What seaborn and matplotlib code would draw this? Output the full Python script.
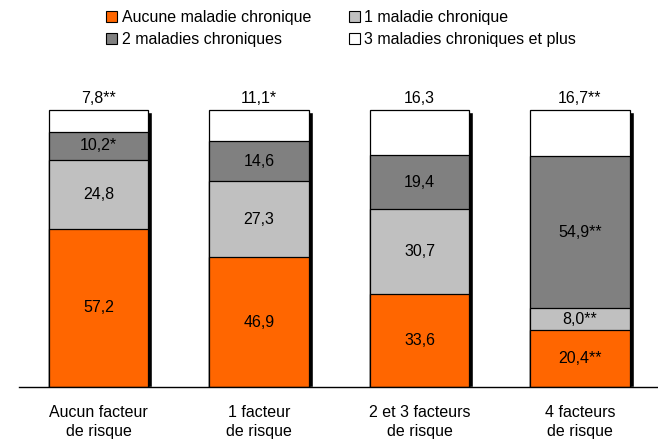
import numpy as np
import pandas as pd
import matplotlib
matplotlib.use("Agg")
import matplotlib.pyplot as plt
import seaborn as sns
from matplotlib.patches import Patch

categories = ["Aucun facteur\nde risque", "1 facteur\nde risque",
              "2 et 3 facteurs\nde risque", "4 facteurs\nde risque"]
series = ["Aucune maladie chronique", "1 maladie chronique",
          "2 maladies chroniques", "3 maladies chroniques et plus"]
aucune = [57.2, 46.9, 33.6, 20.4]
une = [24.8, 27.3, 30.7, 8.0]
deux = [10.2, 14.6, 19.4, 54.9]
trois = [7.8, 11.1, 16.3, 16.7]
labels_aucune = ["57,2", "46,9", "33,6", "20,4**"]
labels_une = ["24,8", "27,3", "30,7", "8,0**"]
labels_deux = ["10,2*", "14,6", "19,4", "54,9**"]
labels_trois = ["7,8**", "11,1*", "16,3", "16,7**"]
colors = ["#FF6600", "#C0C0C0", "#808080", "#FFFFFF"]

sns.set_theme(style="white")
plt.rcParams["font.family"] = ["Liberation Sans", "DejaVu Sans"]
plt.rcParams["text.color"] = "black"
plt.rcParams["xtick.color"] = "black"

fs = 11.5
values = np.array([aucune, une, deux, trois])
cum = np.cumsum(values, axis=0)

fig = plt.figure(figsize=(6.58, 4.41), dpi=100)
ax = fig.add_axes([19 / 658, 54 / 441, 639 / 658, 307 / 441])

width = 0.62
x = np.arange(len(categories))
# shadow on the right of each bar
ax.bar(x + 0.024, cum[-1] - 0.7, width=width, color="black", zorder=0)

# stacked bars drawn as cumulative totals, tallest first
for i in range(len(series) - 1, -1, -1):
    df = pd.DataFrame({"cat": categories, "val": cum[i]})
    sns.barplot(data=df, x="cat", y="val", color=colors[i], width=width,
                edgecolor="black", linewidth=0.9, saturation=1, ax=ax, zorder=1)

inner = [labels_aucune, labels_une, labels_deux]
for j in range(len(categories)):
    for i in range(3):
        mid = cum[i][j] - values[i][j] / 2
        ax.text(x[j], mid, inner[i][j], ha="center", va="center", fontsize=fs,
                color="black", zorder=3)
    ax.text(x[j], cum[-1][j] + 4.3, labels_trois[j], ha="center", va="center",
            fontsize=fs, color="black", zorder=3)

ax.set_xlim(-0.495, 3.486)
ax.set_ylim(0, 110.83)
ax.set_xlabel("")
ax.set_ylabel("")
ax.set_yticks([])
ax.tick_params(axis="x", length=0, labelsize=fs, pad=13, labelcolor="black")
for lab in ax.get_xticklabels():
    lab.set_linespacing(1.35)
for s in ["top", "right", "left"]:
    ax.spines[s].set_visible(False)
ax.spines["bottom"].set_color("black")
ax.spines["bottom"].set_linewidth(1)

handles = [Patch(facecolor=c, edgecolor="black", linewidth=0.8) for c in colors]
order = [0, 2, 1, 3]
fig.legend([handles[k] for k in order], [series[k] for k in order], ncol=2,
           loc="upper left", bbox_to_anchor=(100 / 658, 1 - 4 / 441), frameon=False,
           fontsize=fs, handlelength=0.65, handleheight=0.65, handletextpad=0.3,
           columnspacing=2.4, labelspacing=0.42, borderaxespad=0)

fig.savefig("out.png", dpi=100)
